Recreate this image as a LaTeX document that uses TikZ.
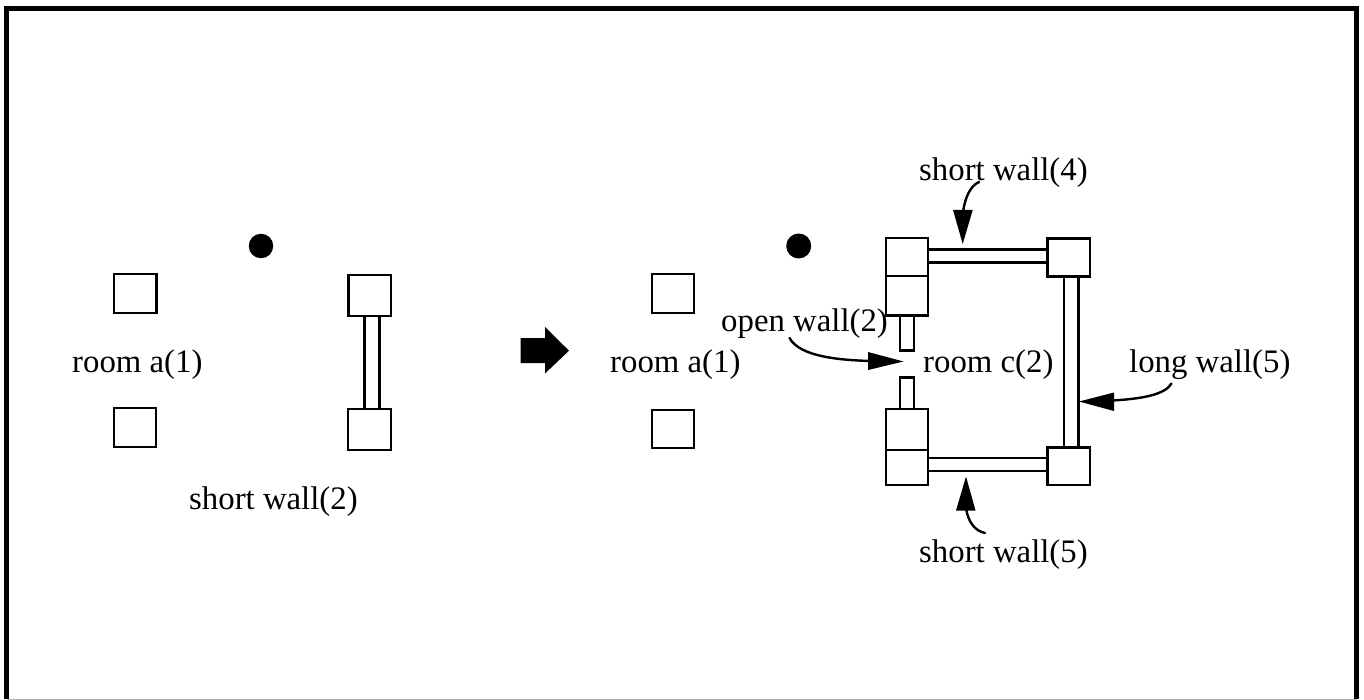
\documentclass[tikz,border=0pt]{standalone}
\usepackage{fontspec}
\setmainfont{Liberation Serif}
\tikzset{
  px/.style={x=1pt,y=-1pt},
  post/.style={draw=black,line width=2.8pt,fill=white},
  wallline/.style={draw=black,line width=2.8pt},
  lbl/.style={font=\fontsize{32.8}{36}\selectfont,inner sep=0pt,anchor=base west,text=black},
  leader/.style={draw=black,line width=2.4pt,line cap=round},
  head/.style={fill=black,draw=none}
}
\begin{document}
\begin{tikzpicture}[px]
\useasboundingbox (0,0) rectangle (1364,700);
% frame
\draw[black,line width=5pt] (6.5,699) -- (6.5,8.5) -- (1356.5,8.5) -- (1356.5,699);
\draw[gray!60,line width=1.2pt] (6.5,699.2) -- (1356.5,699.2);
% left panel
\node[circle,fill=black,minimum size=24.5pt,inner sep=0pt] (dotL) at (261,246) {};
\draw[post] (114,274) rectangle (156.5,313);
\draw[post] (114,408) rectangle (156,447);
\node[minimum width=14.5pt,minimum height=92pt,inner sep=0pt] (wallL) at (372.3,362) {};
\draw[wallline] (wallL.north west) -- (wallL.south west) (wallL.north east) -- (wallL.south east);
\draw[post] (348.5,275) rectangle (391,316);
\draw[post] (348,409) rectangle (391,450);
\node[lbl] (roomL) at (72,372) {room a(1)};
\node[lbl] (shortL) at (189,509) {short wall(2)};
% block arrow
\fill[black] (520.7,338) -- (545,338) -- (545,327) -- (569,350.7) -- (545,373.5) -- (545,363) -- (520.7,363) -- cycle;
% middle
\node[circle,fill=black,minimum size=25pt,inner sep=0pt] (dotM) at (798.7,246) {};
\draw[post] (652,274) rectangle (694,313);
\draw[post] (652,410) rectangle (694,448);
\node[lbl] (roomM) at (610,372) {room a(1)};
% right room walls
\draw[post] (900,315) rectangle (914,350.5);
\draw[post] (900,377.5) rectangle (914,409);
\draw[wallline] (928,249.5) -- (1047,249.5) (928,262.5) -- (1047,262.5);
\draw[wallline] (928,458) -- (1047,458) (928,471) -- (1047,471);
\draw[wallline] (1064,276) -- (1064,447) (1078.3,276) -- (1078.3,447);
\draw[post] (886,238) rectangle (928,276);
\draw[post] (886,276) rectangle (928,315.5);
\draw[post] (886,409) rectangle (928,450);
\draw[post] (886,450) rectangle (928,485);
\draw[post] (1047.5,238.5) rectangle (1090,276.5);
\draw[post] (1047.5,447.5) rectangle (1090,485);
% labels
\node[lbl] (openL) at (721,331.5) {open wall(2)};
\node[lbl] (roomC) at (923,372) {room c(2)};
\node[lbl] (longL) at (1129,372) {long wall(5)};
\node[lbl] (sw4) at (919,181) {short wall(4)};
\node[lbl] (sw5) at (919,562) {short wall(5)};
% leaders
\coordinate (a4s) at (979,182); \coordinate (a4e) at (963,212);
\draw[leader] (a4s) .. controls (970,186) and (965,198) .. (a4e);
\fill[head] (962.7,244) -- (953,210) -- (972.7,210) -- cycle;
\coordinate (a5s) at (985,533); \coordinate (a5e) at (966,508);
\draw[leader] (a5s) .. controls (975,531) and (968,522) .. (a5e);
\fill[head] (966,476.5) -- (956,510.5) -- (975.5,510.5) -- cycle;
\coordinate (aos) at (789.5,338); \coordinate (aoe) at (870,361);
\draw[leader] (aos) .. controls (800,357) and (840,360) .. (aoe);
\fill[head] (903.5,361.5) -- (868,352) -- (868,370) -- cycle;
\coordinate (als) at (1171.5,383.5); \coordinate (ale) at (1112,400.5);
\draw[leader] (als) .. controls (1165,395) and (1140,399) .. (ale);
\fill[head] (1079,401.5) -- (1114,392.5) -- (1114,411) -- cycle;
\end{tikzpicture}
\end{document}
